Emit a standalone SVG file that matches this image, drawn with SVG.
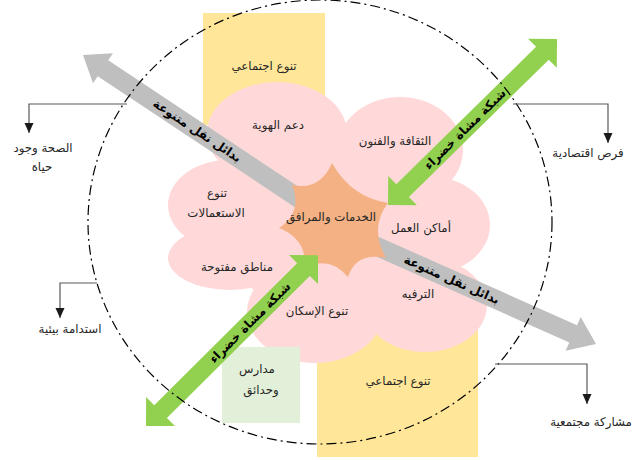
<svg xmlns="http://www.w3.org/2000/svg" width="640" height="460" viewBox="0 0 640 460">
<defs>
<style>
.t{font-family:"DejaVu Sans","Liberation Sans",sans-serif;font-size:11.8px;fill:#262626;text-anchor:middle;dominant-baseline:central}
.b{font-family:"DejaVu Sans","Liberation Sans",sans-serif;font-size:12px;font-weight:bold;fill:#000;text-anchor:middle;dominant-baseline:central}
.cl{fill:#FFD9D9}
.con{fill:none;stroke:#595959;stroke-width:1.2;marker-end:url(#ah)}
</style>
<marker id="ah" markerUnits="userSpaceOnUse" markerWidth="11" markerHeight="11" refX="10" refY="4.5" orient="auto">
<path d="M0,0 L10,4.5 L0,9 z" fill="#1a1a1a"/>
</marker>
</defs>
<rect width="640" height="460" fill="#fff"/>
<g id="yellow-top"><rect x="203" y="13" width="122" height="112" fill="#FFE699"/></g>
<g id="yellow-bottom"><rect x="317" y="300" width="161" height="157" fill="#FFE699"/></g>
<g id="cloud">
<ellipse class="cl" cx="277" cy="133" rx="70" ry="51"/>
<ellipse class="cl" cx="400" cy="150" rx="63" ry="53"/>
<ellipse class="cl" cx="432" cy="225" rx="58" ry="48"/>
<ellipse class="cl" cx="425" cy="305" rx="62" ry="47"/>
<ellipse class="cl" cx="315" cy="312" rx="68" ry="51"/>
<ellipse class="cl" cx="230" cy="258" rx="62" ry="32"/>
<ellipse class="cl" cx="228" cy="205" rx="60" ry="45"/>
<ellipse class="cl" cx="330" cy="225" rx="110" ry="90"/>
</g>
<g id="schools"><rect x="222" y="347" width="78" height="76" fill="#E2F0D9"/></g>
<g id="connectors">
<g id="grey-arrow-1" transform="translate(83,55) rotate(33.6)">
<polygon points="0,0 24,-18 24,-9.5 285,-9.5 285,9.5 24,9.5 24,18" fill="#BFBFBF"/>
<text class="b" x="137" y="0">بدائل نقل متنوعة</text>
</g>
<g id="grey-arrow-2" transform="translate(596,344) rotate(24)">
<polygon points="0,0 -25,-18.5 -25,-9.5 -269,-9.5 -269,9.5 -25,9.5 -25,18.5" fill="#BFBFBF"/>
<text class="b" x="-158" y="0">بدائل نقل متنوعة</text>
</g>
</g>
<g id="services">
<path d="M332,163 Q351,197 388,203 Q369,228 386,258 Q356,252 348,277 Q329.5,255 305,268 Q307,239 279,228 Q303,212 292,185 Q320,191 332,163 Z" fill="#F4B183"/>
<text class="t" x="331" y="217">الخدمات والمرافق</text>
</g>
<g id="green-arrows">
<g id="green-arrow-1" transform="translate(388,205) rotate(-44.5)">
<polygon points="0,0 20.5,-20.5 20.5,-9 216.5,-9 216.5,-20.5 237,0 216.5,20.5 216.5,9 20.5,9 20.5,20.5" fill="#92D050"/>
<text class="b" x="108" y="0">شبكة مشاة خضراء</text>
</g>
<g id="green-arrow-2" transform="translate(146,426) rotate(-44.8)">
<polygon points="0,0 20.5,-20.5 20.5,-9 222,-9 222,-20.5 242.5,0 222,20.5 222,9 20.5,9 20.5,20.5" fill="#92D050"/>
<text class="b" x="146.6" y="0">شبكة مشاة خضراء</text>
</g>
</g>
<g id="boundary"><ellipse cx="320" cy="222" rx="232" ry="222" fill="none" stroke="#000" stroke-width="1.2" stroke-dasharray="10 4 2 4"/></g>
<g id="links">
<path class="con" d="M127,104 H29 V133"/>
<path class="con" d="M513,104 H608 V143"/>
<path class="con" d="M97,283 H60 V318"/>
<path class="con" d="M495,364 H587 V404"/>
</g>
<g id="labels">
<text class="t" x="264" y="66">تنوع اجتماعي</text>
<text class="t" x="278" y="125">دعم الهوية</text>
<text class="t" x="395" y="141">الثقافة والفنون</text>
<text class="t" x="217" y="193">تنوع</text>
<text class="t" x="216" y="213">الاستعمالات</text>
<text class="t" x="421" y="228">أماكن العمل</text>
<text class="t" x="237" y="267">مناطق مفتوحة</text>
<text class="t" x="418" y="294">الترفيه</text>
<text class="t" x="317" y="311">تنوع الإسكان</text>
<text class="t" x="257" y="369">مدارس</text>
<text class="t" x="261" y="390">وحدائق</text>
<text class="t" x="398" y="381">تنوع اجتماعي</text>
<text class="t" x="43" y="148">الصحة وجود</text>
<text class="t" x="42" y="167">حياة</text>
<text class="t" x="588" y="153">فرص اقتصادية</text>
<text class="t" x="70" y="329">استدامة بيئية</text>
<text class="t" x="591" y="422">مشاركة مجتمعية</text>
</g>
</svg>
